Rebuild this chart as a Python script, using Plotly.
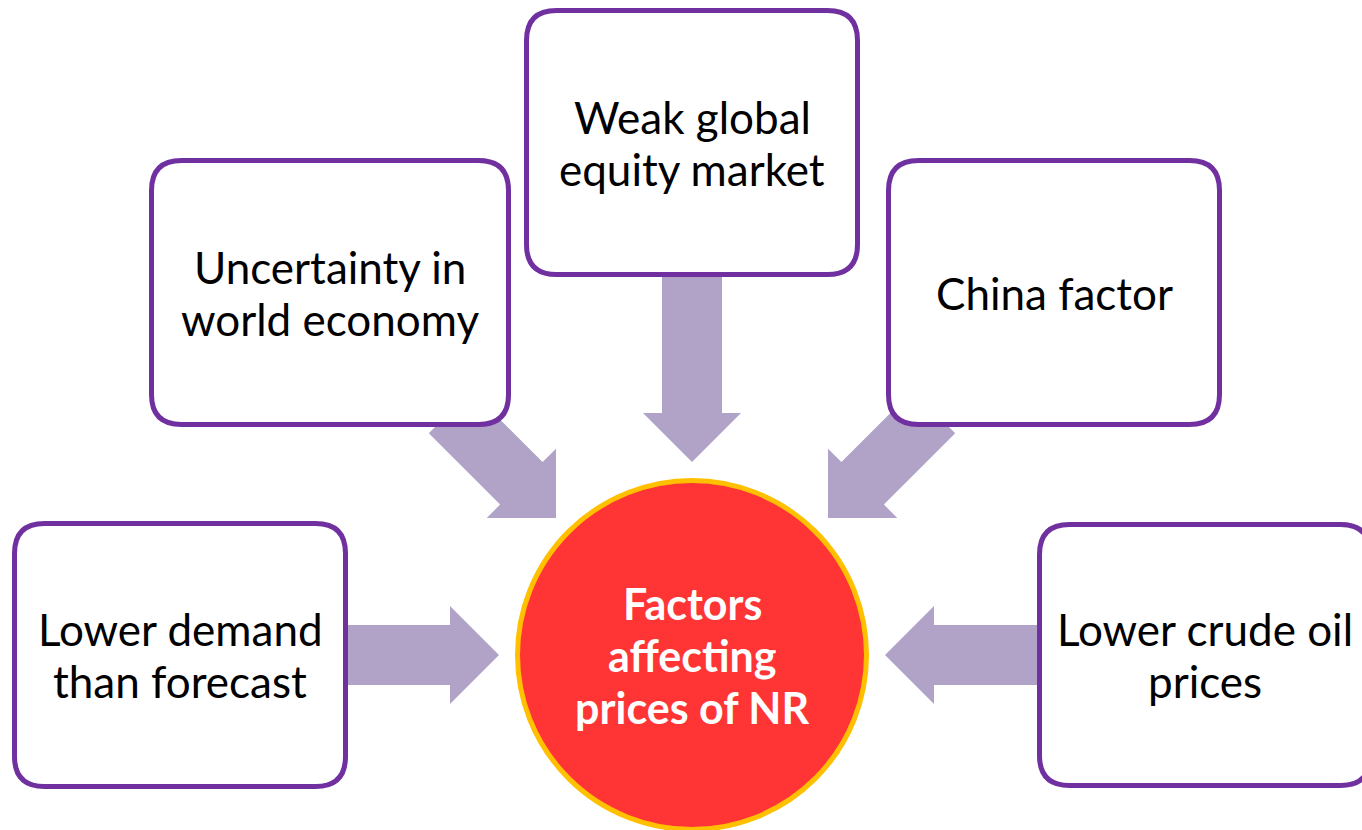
import math
import plotly.graph_objects as go

# text content
factor_labels = [
    "Uncertainty in<br>world economy",
    "Weak global<br>equity market",
    "China factor",
    "Lower demand<br>than forecast",
    "Lower crude oil<br>prices",
]
center_label = "Factors<br>affecting<br>prices of NR"

# layout of the diagram (pixel space, y downwards)
W, H = 1362, 830
box_x0 = [149, 524, 886, 12, 1037]
box_x1 = [511, 860, 1222, 348, 1373]
box_y0 = [158, 8, 158, 521, 522]
box_y1 = [427, 277, 427, 789, 788]
circle_c = (692, 655)
circle_r = 177

# arrow: tail point (hidden under the box) and tip
arrow_tail = [(450, 412), (692, 250), (934, 412), (330, 655), (1060, 655)]
arrow_tip = [(556, 518), (692, 462), (828, 518), (499, 655), (885, 655)]

BORDER = "#7030A0"
ARROW = "#B1A2C8"
RED = "#FF3535"
GOLD = "#FFC000"
LW = 5
LINE_GAP = 52


def rounded_rect(x0, y0, x1, y1, r=30):
    x0 += LW / 2; y0 += LW / 2; x1 -= LW / 2; y1 -= LW / 2
    return (f"M {x0+r},{y0} L {x1-r},{y0} Q {x1},{y0} {x1},{y0+r} "
            f"L {x1},{y1-r} Q {x1},{y1} {x1-r},{y1} L {x0+r},{y1} "
            f"Q {x0},{y1} {x0},{y1-r} L {x0},{y0+r} Q {x0},{y0} {x0+r},{y0} Z")


def block_arrow(tail, tip, sw=30, hw=49, hl=49):
    dx, dy = tip[0] - tail[0], tip[1] - tail[1]
    n = math.hypot(dx, dy)
    dx, dy = dx / n, dy / n
    nx, ny = -dy, dx
    bx, by = tip[0] - hl * dx, tip[1] - hl * dy
    pts = [
        (tail[0] + sw * nx, tail[1] + sw * ny),
        (bx + sw * nx, by + sw * ny),
        (bx + hw * nx, by + hw * ny),
        tip,
        (bx - hw * nx, by - hw * ny),
        (bx - sw * nx, by - sw * ny),
        (tail[0] - sw * nx, tail[1] - sw * ny),
    ]
    return "M " + " L ".join(f"{x:.1f},{y:.1f}" for x, y in pts) + " Z"


def text_lines(label, x, y, size, color, bold=False):
    lines = label.split("<br>")
    out = []
    for i, line in enumerate(lines):
        ly = y + (i - (len(lines) - 1) / 2) * LINE_GAP
        out.append(dict(x=x, y=ly, text=f"<b>{line}</b>" if bold else line, showarrow=False,
                        font=dict(family="Lato", size=size, color=color),
                        xanchor="center", yanchor="middle"))
    return out


fig = go.Figure()
shapes = []
for tail, tip in zip(arrow_tail, arrow_tip):
    shapes.append(dict(type="path", path=block_arrow(tail, tip), fillcolor=ARROW,
                       line=dict(width=0), layer="below"))
for x0, y0, x1, y1 in zip(box_x0, box_y0, box_x1, box_y1):
    shapes.append(dict(type="path", path=rounded_rect(x0, y0, x1, y1), fillcolor="white",
                       line=dict(color=BORDER, width=LW), layer="above"))
cx, cy = circle_c
r = circle_r - LW / 2
shapes.append(dict(type="circle", x0=cx - r, x1=cx + r, y0=cy - r, y1=cy + r,
                   fillcolor=RED, line=dict(color=GOLD, width=LW), layer="above"))

annotations = []
for label, x0, y0, x1, y1 in zip(factor_labels, box_x0, box_y0, box_x1, box_y1):
    annotations += text_lines(label, (x0 + x1) / 2, (y0 + y1) / 2, 44, "black")
annotations += text_lines(center_label, cx, cy, 43, "white", bold=True)

fig.update_layout(
    width=W, height=H, autosize=False,
    margin=dict(l=0, r=0, t=0, b=0),
    paper_bgcolor="white", plot_bgcolor="white",
    shapes=shapes, annotations=annotations,
    showlegend=False,
)
fig.update_xaxes(range=[0, W], visible=False, showgrid=False, zeroline=False)
fig.update_yaxes(range=[H, 0], visible=False, showgrid=False, zeroline=False)

fig.write_html("out.html", config={"displayModeBar": False},
               post_script="document.body.style.margin = '0';")
